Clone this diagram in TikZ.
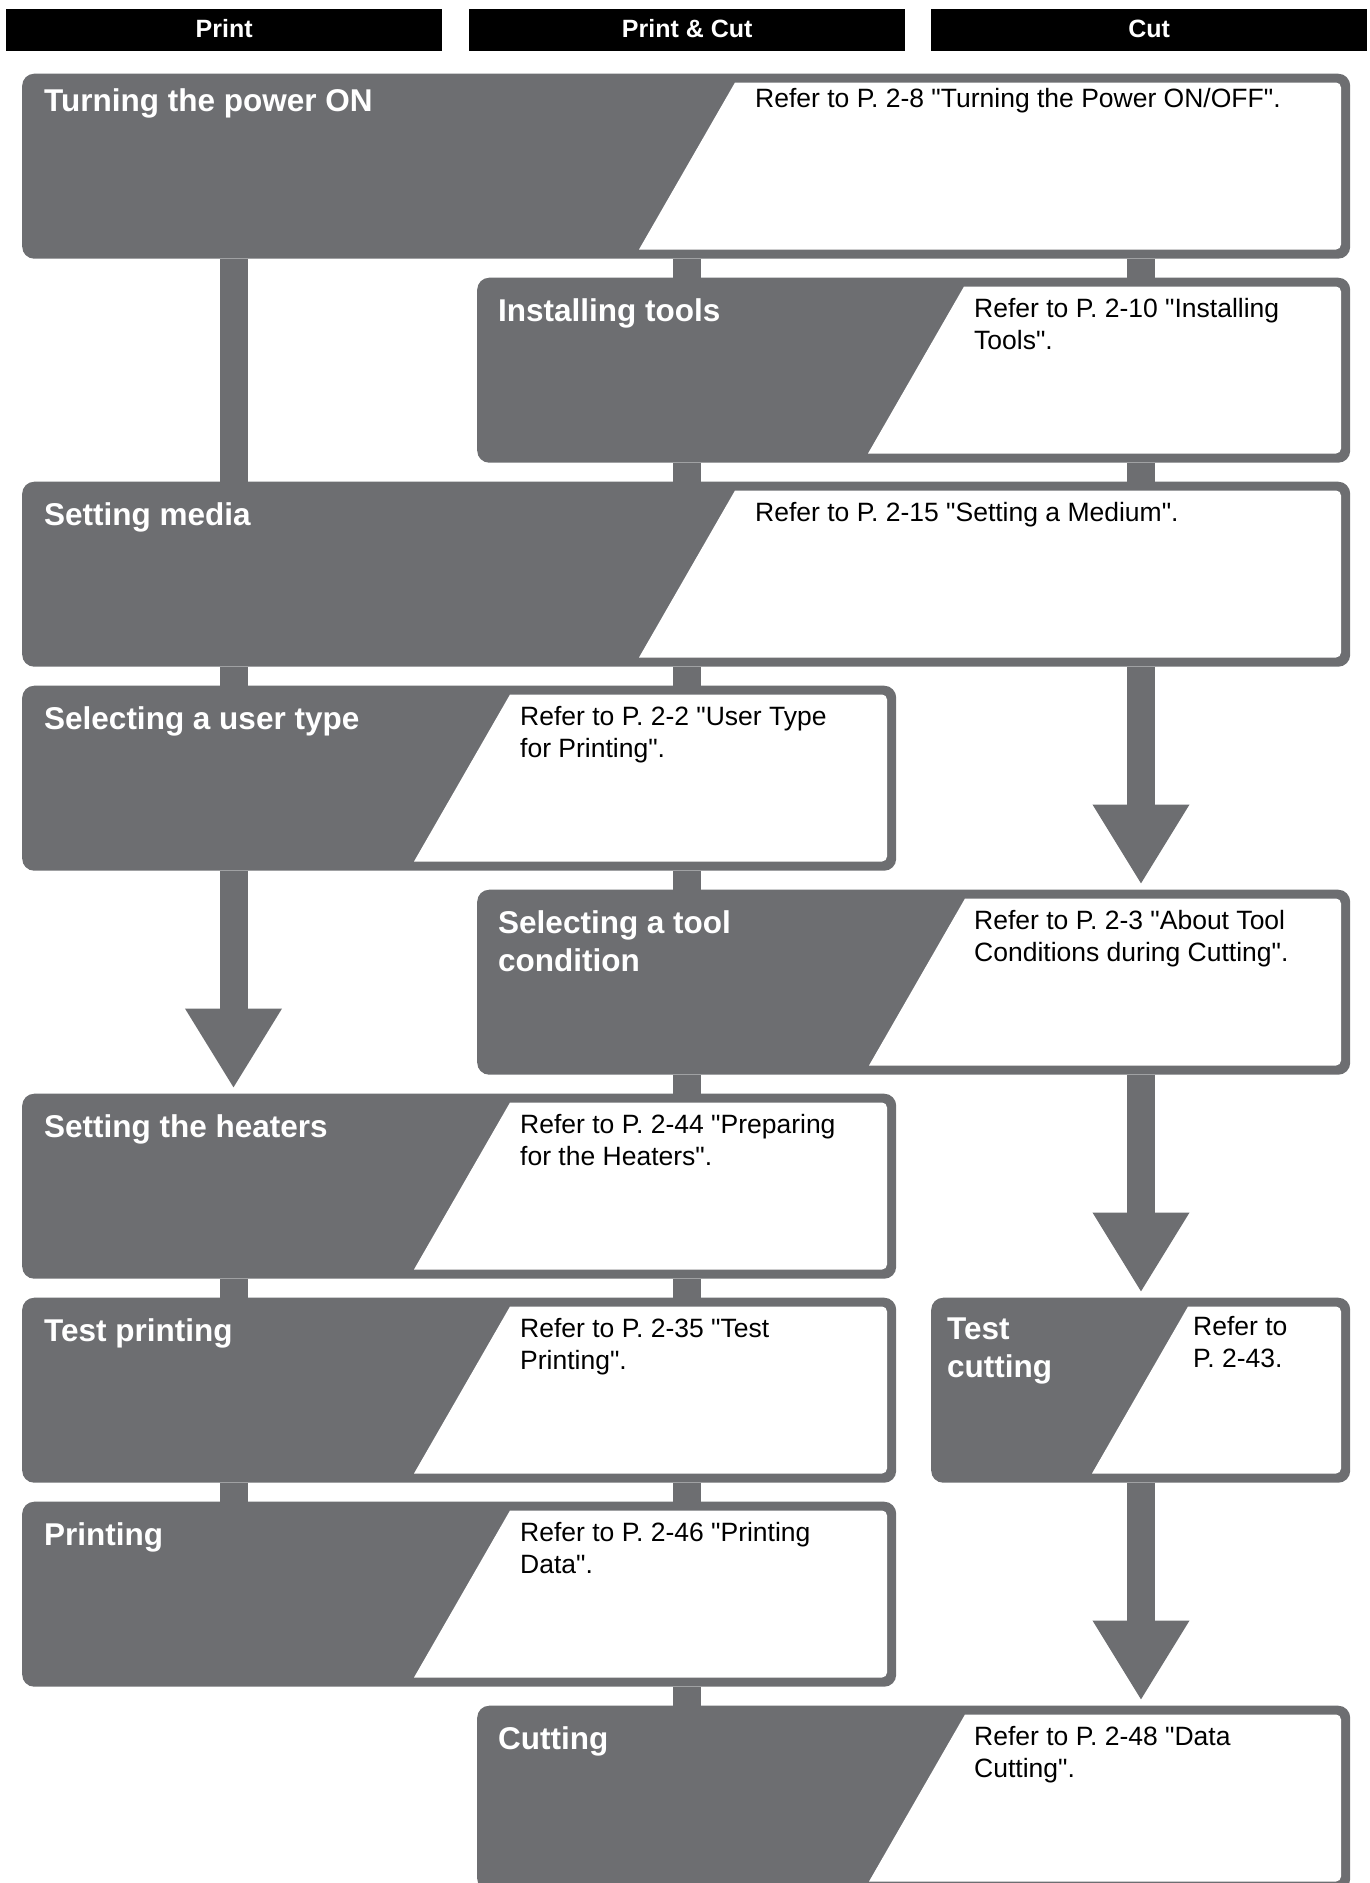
\documentclass[tikz,border=0pt]{standalone}
\usepackage{fontspec}
\setmainfont{Liberation Sans}[Ligatures=TeXOff]
\usetikzlibrary{arrows.meta}
\pgfdeclarelayer{background}
\pgfsetlayers{background,main}
\definecolor{boxgray}{RGB}{109,110,113}
\tikzset{
  boxsty/.style={fill=boxgray, rounded corners=12pt, inner sep=0pt, anchor=north west, minimum height=185pt},
  headsty/.style={fill=black, inner sep=0pt, minimum height=41.7pt, anchor=north west, text=white,
    font=\fontsize{25}{30}\selectfont\bfseries, text height=18pt, text depth=3.6pt},
  titletxt/.style={text=white, font=\fontsize{31.5}{37.5}\selectfont\bfseries, anchor=base west, inner sep=0pt},
  reftxt/.style={text=black, font=\fontsize{26.5}{31.5}\selectfont, anchor=base west, inner sep=0pt},
  barsty/.style={draw=boxgray, line width=28pt},
  arrsty/.style={draw=boxgray, line width=28pt, -{Triangle[length=80pt,width=91pt]}, shorten >=5pt},
}
\newcommand{\twoln}[2]{\vtop{\hbox{#1}\hbox{#2}}}
\def\tdy{38}\def\rdy{34}
% name, left, right, top, white top x, title x, title, ref x, ref
\newcommand{\flowstep}[9]{%
  \node[boxsty, minimum width={(#3-#2)*1pt}] (#1) at (#2,#4) {};
  \fill[white] (#5-96,#4+176) -- (#5,#4+9) [rounded corners=5pt] -- (#3-9,#4+9) -- (#3-9,#4+176) [sharp corners] -- cycle;
  \node[titletxt] (#1-t) at (#6,#4+\tdy) {#7};
  \node[reftxt] (#1-r) at (#8,#4+\rdy) {#9};
}
\begin{document}
\begin{tikzpicture}[x=1pt,y=-1pt]
\useasboundingbox (0,0) rectangle (1369,1883);
\clip (0,0) rectangle (1369,1883);
\coordinate (cP) at (233.5,0);
\coordinate (cM) at (687,0);
\coordinate (cC) at (1141,0);
% headers
\node[headsty, minimum width=436pt] (hP) at (6,9) {Print};
\node[headsty, minimum width=436pt] (hM) at (469,9) {Print \& Cut};
\node[headsty, minimum width=436pt] (hC) at (931,9) {Cut};
% boxes
\flowstep{turn}{22}{1350}{73.5}{735}{44}{Turning the power ON}{755}{Refer to P. 2-8 "Turning the Power ON/OFF".}
\def\tdy{44}\def\rdy{40}
\flowstep{inst}{477}{1350}{277.5}{964}{498}{Installing tools}{974}{\twoln{Refer to P. 2-10 "Installing}{Tools".}}
\flowstep{media}{22}{1350}{481.5}{735}{44}{Setting media}{755}{Refer to P. 2-15 "Setting a Medium".}
\flowstep{user}{22}{896}{685.5}{510}{44}{Selecting a user type}{520}{\twoln{Refer to P. 2-2 "User Type}{for Printing".}}
\flowstep{tool}{477}{1350}{889.5}{965}{498}{\twoln{Selecting a tool}{condition}}{974}{\twoln{Refer to P. 2-3 "About Tool}{Conditions during Cutting".}}
\flowstep{heat}{22}{896}{1093.5}{510}{44}{Setting the heaters}{520}{\twoln{Refer to P. 2-44 "Preparing}{for the Heaters".}}
\flowstep{tprint}{22}{896}{1297.5}{510}{44}{Test printing}{520}{\twoln{Refer to P. 2-35 "Test}{Printing".}}
\flowstep{printing}{22}{896}{1501.5}{510}{44}{Printing}{520}{\twoln{Refer to P. 2-46 "Printing}{Data".}}
\flowstep{cutting}{477}{1350}{1705.5}{965}{498}{Cutting}{974}{\twoln{Refer to P. 2-48 "Data}{Cutting".}}
\def\tdy{42}\def\rdy{38}
\flowstep{tcut}{931}{1350}{1297.5}{1188}{947}{\twoln{Test}{cutting}}{1193}{\twoln{Refer to}{P. 2-43.}}
\begin{pgfonlayer}{background}
% Print column
\draw[barsty] (turn.south -| cP) -- (media.north -| cP);
\draw[barsty] (media.south -| cP) -- (user.north -| cP);
\draw[arrsty] (user.south -| cP) -- (heat.north -| cP);
\draw[barsty] (heat.south -| cP) -- (tprint.north -| cP);
\draw[barsty] (tprint.south -| cP) -- (printing.north -| cP);
% Print & Cut column
\draw[barsty] (turn.south -| cM) -- (inst.north -| cM);
\draw[barsty] (inst.south -| cM) -- (media.north -| cM);
\draw[barsty] (media.south -| cM) -- (user.north -| cM);
\draw[barsty] (user.south -| cM) -- (tool.north -| cM);
\draw[barsty] (tool.south -| cM) -- (heat.north -| cM);
\draw[barsty] (heat.south -| cM) -- (tprint.north -| cM);
\draw[barsty] (tprint.south -| cM) -- (printing.north -| cM);
\draw[barsty] (printing.south -| cM) -- (cutting.north -| cM);
% Cut column
\draw[barsty] (turn.south -| cC) -- (inst.north -| cC);
\draw[barsty] (inst.south -| cC) -- (media.north -| cC);
\draw[arrsty] (media.south -| cC) -- (tool.north -| cC);
\draw[arrsty] (tool.south -| cC) -- (tcut.north -| cC);
\draw[arrsty] (tcut.south -| cC) -- (cutting.north -| cC);
\end{pgfonlayer}
\end{tikzpicture}
\end{document}
